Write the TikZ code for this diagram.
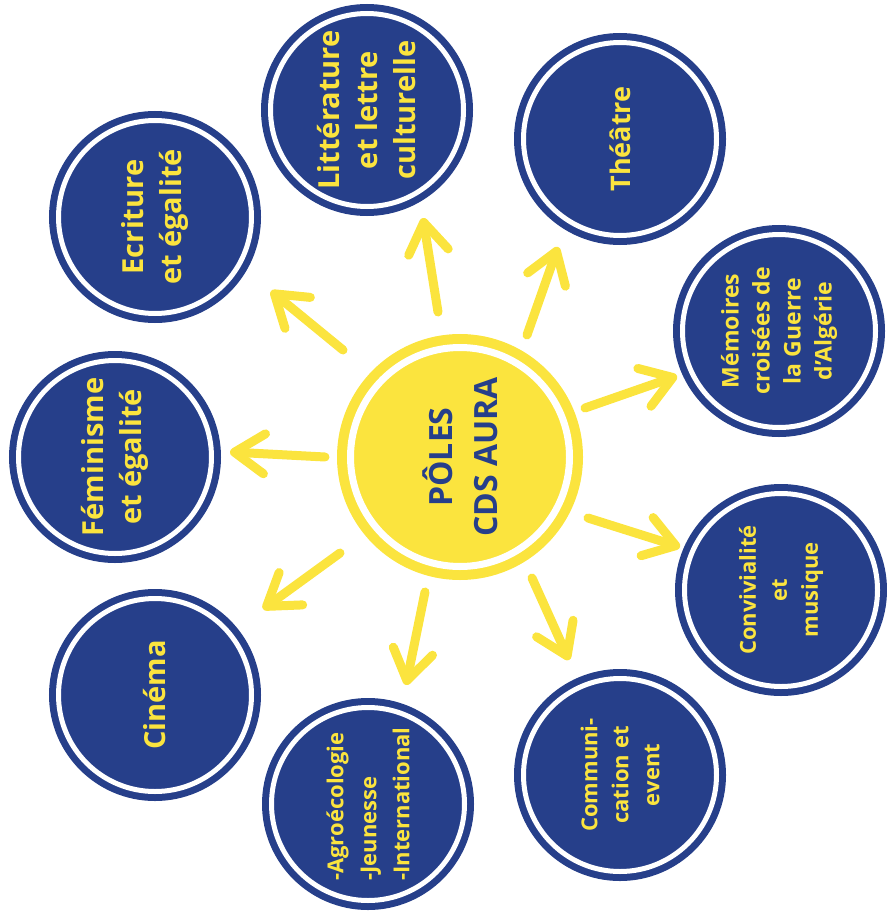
\documentclass[tikz,border=0pt]{standalone}
\usepackage{fontspec}
\setmainfont{Open Sans}
\usetikzlibrary{arrows.meta}
\definecolor{cdsblue}{RGB}{38,63,138}
\definecolor{cdsyellow}{RGB}{251,228,62}

\begin{document}
\begin{tikzpicture}
  [x=1pt,y=-1pt,
   polebox/.style={circle,fill=cdsblue,draw=cdsblue,line width=7pt,double=white,double distance=5pt,
     minimum size=193pt,inner sep=0pt,rotate=90,align=center,text=cdsyellow,
     font=\bfseries\fontsize{29}{38}\selectfont},
   small/.style={font=\bfseries\fontsize{22}{31}\selectfont},
   hub/.style={circle,fill=cdsyellow,draw=cdsyellow,line width=10pt,double=white,double distance=7pt,
     minimum size=219pt,inner sep=0pt,rotate=90,align=center,text=cdsblue,
     font=\bfseries\fontsize{32}{45}\selectfont},
   arr/.style={cdsyellow,line width=9pt,line cap=round,
     -{Straight Barb[round,length=30pt,width=40pt]}}]
  \useasboundingbox (0,0) rectangle (886,915);

  \node[hub] (0) at (460,457) {PÔLES\\CDS AURA};
  \node[polebox] (1) at (367,110) {Littérature\\et lettre\\culturelle};
  \node[polebox,font=\bfseries\fontsize{27}{36}\selectfont] (2) at (620,139) {Théâtre};
  \node[polebox,small,font=\bfseries\fontsize{23}{31}\selectfont] (3) at (779,331) {Mémoires\\croisées de\\la Guerre\\d'Algérie};
  \node[polebox,small] (4) at (781,590) {Convivialité\\et\\musique};
  \node[polebox,small] (5) at (620,775) {Communi-\\cation et\\event};
  \node[polebox,small,align=left,font=\bfseries\fontsize{22}{33}\selectfont] (6) at (368,804) {-Agroécologie\\-Jeunesse\\-International};
  \node[polebox] (7) at (155,695) {Cinéma};
  \node[polebox] (8) at (115,457) {Féminisme\\et égalité};
  \node[polebox] (9) at (155,217) {Ecriture\\et égalité};

  \coordinate (s1) at (438,312); \coordinate (e1) at (423,218);
  \coordinate (s2) at (527,335); \coordinate (e2) at (558,247);
  \coordinate (s3) at (343,350); \coordinate (e3) at (271,291);
  \coordinate (s4) at (325,457); \coordinate (e4) at (230,452);
  \coordinate (s5) at (340,553); \coordinate (e5) at (263,609);
  \coordinate (s6) at (425,592); \coordinate (e6) at (406,685);
  \coordinate (s7) at (532,578); \coordinate (e7) at (569,660);
  \coordinate (s8) at (585,408); \coordinate (e8) at (677,376);
  \coordinate (s9) at (588,518); \coordinate (e9) at (680,547);

  \foreach \n in {1,...,9}
    \draw[arr] (s\n) -- (e\n);

\end{tikzpicture}
\end{document}
